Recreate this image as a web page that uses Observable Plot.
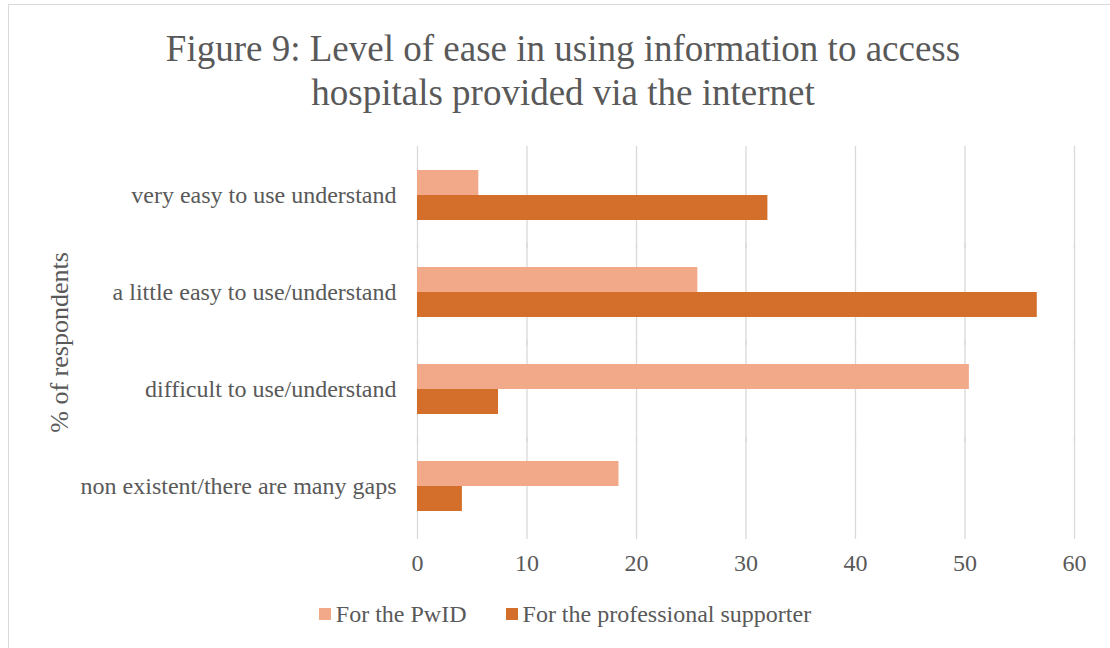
<!DOCTYPE html>
<html>
<head>
<meta charset="utf-8">
<script src="https://cdn.jsdelivr.net/npm/d3@7"></script>
<script src="https://cdn.jsdelivr.net/npm/@observablehq/plot@0.6"></script>
<style>
  html, body { margin: 0; padding: 0; background: #fff; width: 1110px; height: 648px; overflow: hidden; }
  #frame { position: absolute; left: 8px; top: 4px; width: 1110px; height: 680px; border: 1.5px solid #d9d9d9; box-sizing: border-box; }
  #title { position: absolute; left: 8px; top: 27px; width: 1110px; text-align: center; font-family: "Liberation Serif", serif; font-size: 37px; line-height: 44px; color: #595959; }
  #chart { position: absolute; left: 0; top: 130px; }
  #legend { position: absolute; left: 10px; top: 600px; width: 1110px; display: flex; justify-content: center; gap: 39px; font-family: "Liberation Serif", serif; font-size: 24px; line-height: 28px; color: #595959; }
  .item { display: flex; align-items: center; gap: 5px; }
  .sw { width: 12px; height: 12px; display: inline-block; }
</style>
</head>
<body>
<div id="frame"></div>
<div id="title">Figure 9: Level of ease in using information to access<br>hospitals provided via the internet</div>
<div id="chart"></div>
<div id="legend"></div>
<script>
const categories = [
  "very easy to use understand",
  "a little easy to use/understand",
  "difficult to use/understand",
  "non existent/there are many gaps"
];
const seriesNames = ["For the PwID", "For the professional supporter"];
const pwidValues = [5.6, 25.6, 50.4, 18.4];
const professionalValues = [32.0, 56.6, 7.4, 4.1];
const xTicks = [0, 10, 20, 30, 40, 50, 60];
const colors = ["#F2A98A", "#D36F2B"];
const yAxisLabel = "% of respondents";

const data = [];
categories.forEach((c, i) => {
  data.push({category: c, series: seriesNames[0], value: pwidValues[i]});
  data.push({category: c, series: seriesNames[1], value: professionalValues[i]});
});

const textColor = "#595959";
const chart = Plot.plot({
  width: 1110,
  height: 460,
  marginTop: 14,
  marginBottom: 55,
  marginLeft: 417,
  marginRight: 36,
  style: {fontFamily: "'Liberation Serif', serif", fontSize: "24px", color: textColor, background: "transparent"},
  x: {domain: [0, 60], ticks: xTicks},
  y: {domain: seriesNames, paddingInner: 0, paddingOuter: 0.92, axis: null},
  fy: {domain: categories, padding: 0},
  color: {domain: seriesNames, range: colors},
  marks: [
    Plot.ruleX(xTicks, {x: d => d, stroke: "#d9d9d9", strokeWidth: 1.3, strokeOpacity: 1, insetBottom: -5}),
    Plot.barX(data, {x: "value", y: "series", fy: "category", fill: "series"}),
    Plot.axisX({ticks: xTicks, tickSize: 0, tickPadding: 19, label: null, fontSize: 24, color: textColor}),
    Plot.axisFy({anchor: "left", tickSize: 0, tickPadding: 21, label: null, fontSize: 24, color: textColor}),
    Plot.text([yAxisLabel], {facet: "super", frameAnchor: "left", textAnchor: "middle", dx: -358, dy: 2, rotate: -90, fontSize: 26, fill: textColor})
  ]
});
document.getElementById("chart").appendChild(chart);

const legend = document.getElementById("legend");
seriesNames.forEach((s, i) => {
  const item = document.createElement("div");
  item.className = "item";
  const sw = document.createElement("span");
  sw.className = "sw";
  sw.style.background = colors[i];
  const t = document.createElement("span");
  t.textContent = s;
  item.appendChild(sw);
  item.appendChild(t);
  legend.appendChild(item);
});
</script>
</body>
</html>
